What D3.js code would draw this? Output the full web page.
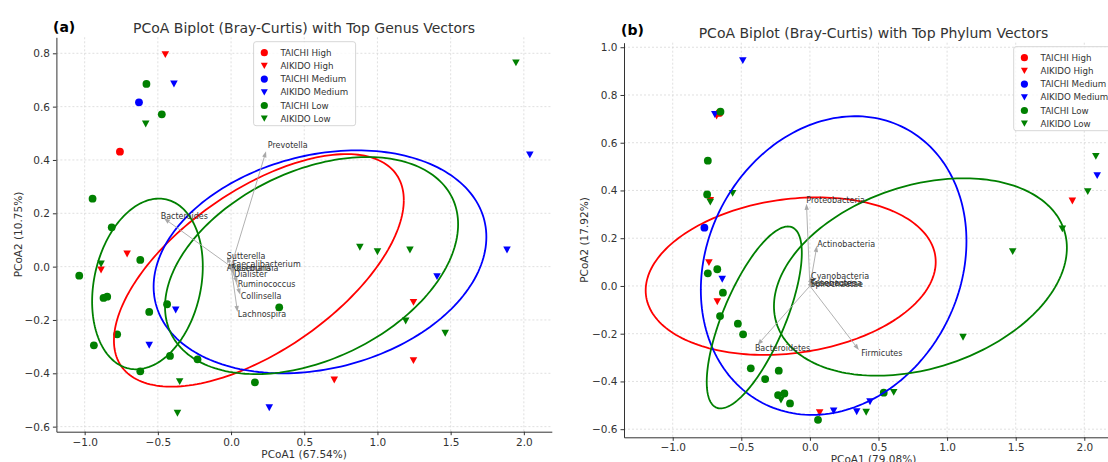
<!DOCTYPE html>
<html>
<head>
<meta charset="utf-8">
<script src="https://cdn.jsdelivr.net/npm/d3@7"></script>
<style>
  body { margin: 0; overflow: hidden; background: #fff; }
  text { font-family: "DejaVu Sans", sans-serif; }
</style>
</head>
<body>
<div id="chart"></div>
<script>
// group order is the legend order
const groups = ["TAICHI High", "AIKIDO High", "TAICHI Medium", "AIKIDO Medium", "TAICHI Low", "AIKIDO Low"];

const xTicks = [-1.0, -0.5, 0.0, 0.5, 1.0, 1.5, 2.0];
const genusYTicks = [-0.6, -0.4, -0.2, 0.0, 0.2, 0.4, 0.6, 0.8];
const phylumYTicks = [-0.6, -0.4, -0.2, 0.0, 0.2, 0.4, 0.6, 0.8, 1.0];

// (a) genus level, one list of [PCoA1, PCoA2] per group
const genusPoints = [
  [[-0.759, 0.431]],
  [[-0.449, 0.795], [-0.71, 0.0475], [-0.888, -0.0125], [1.246, -0.134], [1.246, -0.3525], [0.705, -0.425]],
  [[-0.629, 0.616]],
  [[-0.39, 0.685], [2.041, 0.419], [1.885, 0.0625], [1.407, -0.0375], [-0.378, -0.1625], [-0.559, -0.295], [0.261, -0.529]],
  [[-0.578, 0.685], [-0.473, 0.571], [-0.946, 0.255], [-0.815, 0.1475], [-0.62, 0.025], [-1.037, -0.034],
   [-0.871, -0.1175], [-0.846, -0.1125], [-0.437, -0.141], [-0.559, -0.17], [0.329, -0.1525], [-0.778, -0.254],
   [-0.937, -0.295], [-0.417, -0.335], [-0.229, -0.3475], [-0.62, -0.3925], [0.163, -0.434]],
  [[-0.583, 0.535], [1.946, 0.764], [0.88, 0.0725], [1.0, 0.056], [1.222, 0.0625], [-0.888, 0.01],
   [1.193, -0.204], [1.463, -0.25], [-0.351, -0.431], [-0.366, -0.55]]
];

// [name, tip PCoA1, tip PCoA2]
const genusVectors = [
  ["Prevotella", 0.239, 0.4325],
  ["Bacteroides", -0.458, 0.181],
  ["Sutterella", -0.028, 0.038],
  ["Faecalibacterium", 0.009, 0.009],
  ["Akkermansia", -0.028, -0.006],
  ["Roseburia", 0.0, -0.004],
  ["Dialister", 0.019, -0.027],
  ["Ruminococcus", 0.044, -0.061],
  ["Collinsella", 0.063, -0.105],
  ["Lachnospira", 0.044, -0.17]
];

// [group index, centre x, centre y, half extent x, half extent y, correlation]
const genusEllipses = [
  [1, 0.19, -0.014, 0.99, 0.436, 0.604],
  [3, 0.6075, 0.018, 1.1365, 0.418, 0.223],
  [5, 0.55, 0.004, 1.001, 0.407, 0.38],
  [4, -0.571, -0.065, 0.378, 0.32, 0.206]
];

// (b) phylum level
const phylumPoints = [
  [[-0.66, 0.725]],
  [[-0.68, 0.712], [-0.726, 0.358], [1.913, 0.356], [-0.736, 0.098], [-0.675, -0.066], [0.071, -0.531]],
  [[-0.769, 0.244]],
  [[-0.489, 0.944], [-0.693, 0.718], [2.094, 0.462], [-0.639, 0.028], [0.438, -0.485], [0.341, -0.527], [0.173, -0.524]],
  [[-0.652, 0.73], [-0.744, 0.525], [-0.749, 0.383], [-0.675, 0.07], [-0.744, 0.053], [-0.634, -0.028],
   [-0.655, -0.126], [-0.525, -0.158], [-0.487, -0.2025], [-0.431, -0.345], [-0.227, -0.355], [-0.326, -0.39],
   [-0.232, -0.457], [-0.186, -0.45], [-0.145, -0.492], [0.538, -0.447], [0.059, -0.561]],
  [[-0.726, 0.351], [-0.563, 0.388], [2.084, 0.543], [2.025, 0.395], [1.84, 0.239], [1.478, 0.144],
   [1.116, -0.215], [-0.211, -0.478], [0.611, -0.446], [0.41, -0.529]]
];

const phylumVectors = [
  ["Proteobacteria", -0.025, 0.344],
  ["Actinobacteria", 0.051, 0.168],
  ["Cyanobacteria", 0.008, 0.04],
  ["Tenericutes", 0.004, 0.012],
  ["Fusobacteria", 0.006, 0.01],
  ["Spirochaetae", 0.003, 0.008],
  ["Bacteroidetes", -0.382, -0.247],
  ["Firmicutes", 0.357, -0.268]
];

const phylumEllipses = [
  [1, -0.14, 0.041, 1.057, 0.330, 0.181],
  [3, 0.173, 0.0855, 0.968, 0.6255, 0.163],
  [5, 0.8055, 0.0375, 1.0675, 0.4135, 0.296],
  [4, -0.4055, -0.132, 0.3465, 0.381, 0.709]
];

const colors = ["#ff0000", "#ff0000", "#0000ff", "#0000ff", "#008000", "#008000"];
const shapes = ["circle", "tri", "circle", "tri", "circle", "tri"];
const ink = "#333";

var svg = d3.select('#chart')
    .append('svg')
    .attr('width', 1108)
    .attr('height', 462);

drawPanel({
    tag: "(a)", title: "PCoA Biplot (Bray-Curtis) with Top Genus Vectors",
    xlab: "PCoA1 (67.54%)", ylab: "PCoA2 (10.75%)",
    xDomain: [-1.193, 2.191], yDomain: [-0.619, 0.86],
    left: 56.4, right: 551.8, top: 37.3, bottom: 431.7,
    yTicks: genusYTicks, points: genusPoints, vectors: genusVectors, ellipses: genusEllipses,
    legendX: 253.6, legendY: 41.7, titleY: 28, tagX: 53, tagY: 27, ylabX: 18, xlabY: 454
});

drawPanel({
    tag: "(b)", title: "PCoA Biplot (Bray-Curtis) with Top Phylum Vectors",
    xlab: "PCoA1 (79.08%)", ylab: "PCoA2 (17.92%)",
    xDomain: [-1.355, 2.282], yDomain: [-0.634, 1.019],
    left: 624, right: 1123, top: 42.7, bottom: 437.3,
    yTicks: phylumYTicks, points: phylumPoints, vectors: phylumVectors, ellipses: phylumEllipses,
    legendX: 1013.7, legendY: 46.7, titleY: 33, tagX: 621, tagY: 30, ylabX: 584.5, xlabY: 459
});

function marker(g, shape, cx, cy, r, color) {
    if (shape == "circle") {
        g.append('circle').attr('cx', cx).attr('cy', cy).attr('r', r).attr('fill', color);
    } else {
        let w = r * 0.97, h = r * 0.88;
        g.append('path')
            .attr('d', 'M' + (cx - w) + ',' + (cy - h) + 'L' + (cx + w) + ',' + (cy - h) + 'L' + cx + ',' + (cy + h) + 'Z')
            .attr('fill', color);
    }
}

function drawPanel(p) {
    let x = d3.scaleLinear().domain(p.xDomain).range([p.left, p.right]);
    let y = d3.scaleLinear().domain(p.yDomain).range([p.bottom, p.top]);
    let g = svg.append('g');
    let fmt = d3.format(".1f");

    // grid
    let grid = g.append('g').attr('stroke', '#d3d3d3').attr('stroke-width', 0.7).attr('stroke-dasharray', '2,2');
    xTicks.forEach(t => {
        grid.append('line').attr('x1', x(t)).attr('x2', x(t)).attr('y1', p.top).attr('y2', p.bottom);
    });
    p.yTicks.forEach(t => {
        grid.append('line').attr('x1', p.left).attr('x2', p.right).attr('y1', y(t)).attr('y2', y(t));
    });

    // axes (left and bottom spines only)
    let xa = g.append('g').attr('transform', 'translate(0,' + p.bottom + ')')
        .call(d3.axisBottom(x).tickValues(xTicks).tickFormat(fmt).tickSize(3.5).tickSizeOuter(0).tickPadding(3));
    let ya = g.append('g').attr('transform', 'translate(' + p.left + ',0)')
        .call(d3.axisLeft(y).tickValues(p.yTicks).tickFormat(fmt).tickSize(3.5).tickSizeOuter(0).tickPadding(3));
    [xa, ya].forEach(a => {
        a.select('.domain').attr('stroke', ink).attr('stroke-width', 1);
        a.selectAll('.tick line').attr('stroke', ink);
        a.selectAll('.tick text').attr('fill', ink).style('font-size', '10.5px').style('font-family', '"DejaVu Sans", sans-serif');
    });

    // scatter
    p.points.forEach((pts, gi) => {
        let layer = g.append('g');
        pts.forEach(d => marker(layer, shapes[gi], x(d[0]), y(d[1]), 3.9, colors[gi]));
    });

    // ellipses
    let ts = d3.range(0, 201).map(i => i / 200 * 2 * Math.PI);
    p.ellipses.forEach(e => {
        let s = Math.sqrt(1 - e[5] * e[5]);
        let line = d3.line()
            .x(t => x(e[1] + e[3] * Math.cos(t)))
            .y(t => y(e[2] + e[4] * (e[5] * Math.cos(t) + s * Math.sin(t))));
        g.append('path').attr('d', line(ts)).attr('fill', 'none')
            .attr('stroke', colors[e[0]]).attr('stroke-width', 1.8);
    });

    // loading vectors
    let vg = g.append('g');
    p.vectors.forEach(v => {
        let x0 = x(0), y0 = y(0), x1 = x(v[1]), y1 = y(v[2]);
        let len = Math.hypot(x1 - x0, y1 - y0);
        let ux = (x1 - x0) / len, uy = (y1 - y0) / len;
        let hl = Math.min(6, len * 0.8), hw = 2.2;
        let bx = x1 - ux * hl, by = y1 - uy * hl;
        vg.append('line').attr('x1', x0).attr('y1', y0).attr('x2', bx).attr('y2', by)
            .attr('stroke', '#a8a8a8').attr('stroke-width', 0.9);
        vg.append('path')
            .attr('d', 'M' + x1 + ',' + y1 + 'L' + (bx - uy * hw) + ',' + (by + ux * hw) + 'L' + (bx + uy * hw) + ',' + (by - ux * hw) + 'Z')
            .attr('fill', '#a8a8a8');
        vg.append('text').attr('x', x(v[1] * 1.05)).attr('y', y(v[2] * 1.05)).attr('dy', '0.35em')
            .attr('font-size', '8px').attr('fill', ink).text(v[0]);
    });

    // legend
    let lg = g.append('g').attr('transform', 'translate(' + p.legendX + ',' + p.legendY + ')');
    lg.append('rect').attr('width', 102).attr('height', 84).attr('rx', 2.5)
        .attr('fill', '#fff').attr('fill-opacity', 0.8).attr('stroke', '#cccccc').attr('stroke-width', 0.8);
    groups.forEach((name, i) => {
        let ry = 11 + 13.2 * i;
        marker(lg, shapes[i], 10.7, ry, 3.6, colors[i]);
        lg.append('text').attr('x', 26.8).attr('y', ry).attr('dy', '0.35em')
            .attr('font-size', '8.7px').attr('fill', ink).text(name);
    });

    // titles and labels
    let mid = (p.left + p.right) / 2;
    g.append('text').attr('x', mid).attr('y', p.titleY).attr('dy', '0.35em').attr('text-anchor', 'middle')
        .attr('font-size', '14px').attr('fill', ink).text(p.title);
    g.append('text').attr('x', p.tagX).attr('y', p.tagY).attr('dy', '0.35em')
        .attr('font-size', '14px').attr('font-weight', 'bold').attr('fill', '#000').text(p.tag);
    g.append('text').attr('x', mid).attr('y', p.xlabY).attr('dy', '0.35em').attr('text-anchor', 'middle')
        .attr('font-size', '10.5px').attr('fill', ink).text(p.xlab);
    g.append('text').attr('transform', 'translate(' + p.ylabX + ',' + ((p.top + p.bottom) / 2) + ') rotate(-90)')
        .attr('dy', '0.35em').attr('text-anchor', 'middle')
        .attr('font-size', '10.5px').attr('fill', ink).text(p.ylab);
}
</script>
</body>
</html>
